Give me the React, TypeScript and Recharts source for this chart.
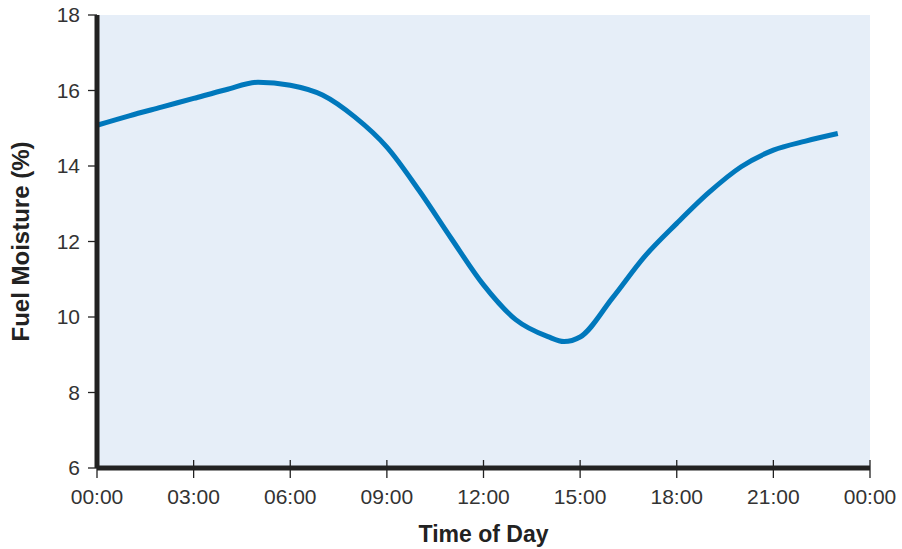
import { LineChart, Line, XAxis, YAxis, CartesianGrid, Label } from 'recharts';

// hour of day -> fuel moisture (%)
const hours = [0, 1, 2, 3, 4, 5, 6, 7, 8, 9, 10, 11, 12, 13, 14, 14.5, 15, 16, 17, 18, 19, 20, 21, 22, 23];
const moisture = [
  15.08, 15.33, 15.56, 15.79, 16.02, 16.22, 16.14, 15.88, 15.3, 14.5, 13.35, 12.08,
  10.85, 9.93, 9.48, 9.35, 9.47, 10.5, 11.6, 12.48, 13.3, 13.98, 14.42, 14.66, 14.86,
];
const xTicks = [0, 3, 6, 9, 12, 15, 18, 21, 24];
const xTickLabels = ['00:00', '03:00', '06:00', '09:00', '12:00', '15:00', '18:00', '21:00', '00:00'];
const yTicks = [6, 8, 10, 12, 14, 16, 18];

const data = hours.map((h, i) => ({ hour: h, moisture: moisture[i] }));

const FONT = '"Liberation Sans", Arial, Helvetica, sans-serif';

function XTick(props: any) {
  const { x, y, payload } = props;
  const idx = xTicks.indexOf(payload.value);
  return (
    <g>
      <line x1={x} x2={x} y1={y - 8} y2={y + 10} stroke="#222" strokeWidth={1.3} />
      <text x={x} y={y + 36} textAnchor="middle" fill="#333" fontSize={21} fontFamily={FONT}>
        {xTickLabels[idx]}
      </text>
    </g>
  );
}

export default function App() {
  return (
    <div style={{ position: 'absolute', left: 0, top: 0, width: 902, height: 549, background: '#fff' }}>
      <LineChart
        width={902}
        height={549}
        data={data}
        margin={{ top: 15, right: 32, bottom: 3, left: 0 }}
      >
        <CartesianGrid horizontal={false} vertical={false} fill="#E6EEF8" />
        <XAxis
          dataKey="hour"
          type="number"
          domain={[0, 24]}
          ticks={xTicks}
          height={78}
          axisLine={{ stroke: '#222', strokeWidth: 5 }}
          tickLine={false}
          tickSize={0}
          tickMargin={0}
          tick={<XTick />}
          interval={0}
        >
          <Label
            value="Time of Day"
            position="insideBottom"
            offset={4}
            style={{ fontFamily: FONT, fontWeight: 'bold', fontSize: 23, fill: '#222' }}
          />
        </XAxis>
        <YAxis
          type="number"
          domain={[6, 18]}
          ticks={yTicks}
          width={97}
          axisLine={{ stroke: '#222', strokeWidth: 5 }}
          tickLine={{ stroke: '#222', strokeWidth: 1.3 }}
          tickSize={9}
          tickMargin={8}
          tick={{ fill: '#333', fontSize: 21, fontFamily: FONT }}
          interval={0}
        >
          <Label
            value="Fuel Moisture (%)"
            angle={-90}
            position="insideLeft"
            offset={20}
            style={{ textAnchor: 'middle', fontFamily: FONT, fontWeight: 'bold', fontSize: 24, fill: '#222' }}
          />
        </YAxis>
        <Line
          type="monotone"
          dataKey="moisture"
          stroke="#0078BC"
          strokeWidth={5}
          dot={false}
          isAnimationActive={false}
        />
      </LineChart>
    </div>
  );
}
